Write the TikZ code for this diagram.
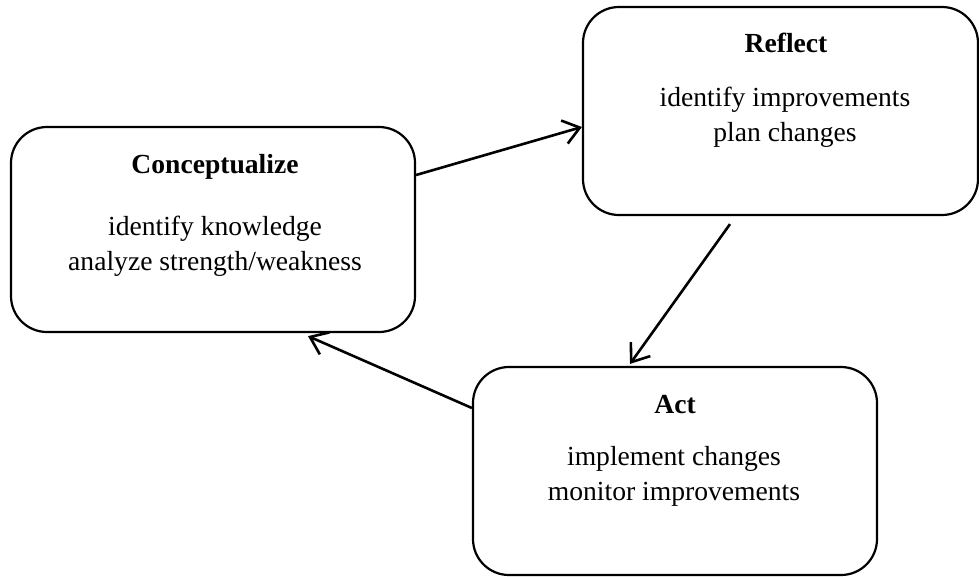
\documentclass[tikz,border=0pt]{standalone}
\usepackage{fontspec}
\setmainfont{Liberation Serif}
\usetikzlibrary{arrows.meta}
\begin{document}
\begin{tikzpicture}[x=1pt,y=-1pt,
  stagebox/.style={draw, line width=2.2pt, rounded corners=36pt, inner sep=0pt},
  title/.style={anchor=base, font=\fontsize{27.6}{33}\selectfont\bfseries},
  item/.style={anchor=base, font=\fontsize{27.6}{33}\selectfont},
  flow/.style={line width=2.6pt, -{Straight Barb[length=16pt,width=24pt,line width=2.6pt]}}]
\useasboundingbox (0,0) rectangle (979,576);

% the three stages of the cycle
\node[stagebox, minimum width=404pt, minimum height=205pt] (conc) at (213,229.5) {};
\node[stagebox, minimum width=395pt, minimum height=208pt] (refl) at (780.5,111) {};
\node[stagebox, minimum width=404pt, minimum height=208pt] (act) at (675,471) {};

% stage texts
\node[title] (concT) at (215,173) {Conceptualize};
\node[item]  (concA) at (215,235) {identify knowledge};
\node[item]  (concB) at (215,270) {analyze strength/weakness};

\node[title] (reflT) at (786,52.5) {Reflect};
\node[item]  (reflA) at (785,106.5) {identify improvements};
\node[item]  (reflB) at (785,141.5) {plan changes};

\node[title] (actT) at (675,413) {Act};
\node[item]  (actA) at (674,465) {implement changes};
\node[item]  (actB) at (674,500) {monitor improvements};

% arrows between the stages
\draw[flow] ([yshift=54.5pt]conc.east) -- ([yshift=-16pt]refl.west);
\draw[flow] ([shift={(-50.5pt,-8pt)}]refl.south) -- ([shift={(-45pt,2pt)}]act.north);
\draw[flow] ([yshift=63pt]act.west) -- ([shift={(95pt,-3pt)}]conc.south);
\end{tikzpicture}
\end{document}
